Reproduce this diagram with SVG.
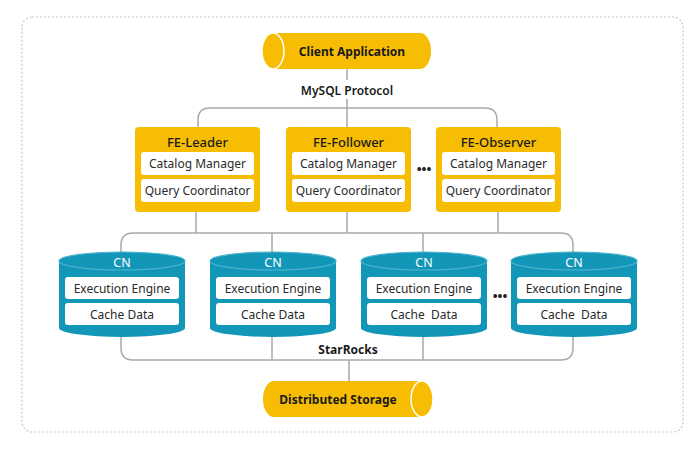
<svg xmlns="http://www.w3.org/2000/svg" width="690" height="452" viewBox="0 0 690 452">
<style>
.conn{fill:none;stroke:#a9a9a9;stroke-width:1.5}
.fe{fill:#f6bd02}
.inner{fill:#ffffff}
.cyl{fill:#1397b9}
.cyltop{fill:#1397b9;stroke:#4fb3cd;stroke-width:1.2}
.cap{fill:#f6bd02;stroke:#ffffff;stroke-width:1.5}
text{font-family:"Noto Sans","Liberation Sans",sans-serif;text-anchor:middle;dominant-baseline:central}
.t-in{font-size:12px;fill:#2a2a2a}
.t-fe{font-size:13px;font-weight:500;fill:#1a1a1a}
.t-cn{font-size:12.5px;fill:#ffffff}
.t-b{font-size:12px;font-weight:700;fill:#1a1a1a}
.dots{font-size:13px;font-weight:700;fill:#222}
</style>
<rect x="0" y="0" width="690" height="452" fill="#ffffff"/>
<rect x="22" y="17" width="661" height="415" rx="10" fill="none" stroke="#c4c4c4" stroke-width="1.2" stroke-dasharray="2 2"/>

<g id="connectors">
<path class="conn" d="M347 69 V80 M347 99 V127"/>
<path class="conn" d="M198 127 V120 Q198 108 210 108 H485 Q497 108 497 120 V127"/>
<path class="conn" d="M196 212 V233 M347 212 V233 M498 212 V233 M272 233 V252 M423 233 V252"/>
<path class="conn" d="M121 255 V245 Q121 233 133 233 H561 Q573 233 573 245 V255"/>
<path class="conn" d="M121 335 V348 Q121 360 133 360 H561 Q573 360 573 348 V335"/>
<path class="conn" d="M272 335 V360 M423 335 V360 M349 360 V381"/>
</g>

<g id="client-application">
<path class="fe" d="M273 33 H420 A11 18 0 0 1 420 69 H273 Z"/>
<ellipse class="cap" cx="273" cy="51" rx="11" ry="18"/>
<text class="t-b" x="352" y="51">Client Application</text>
</g>
<text id="mysql-protocol" class="t-b" x="347" y="90" style="font-weight:600">MySQL Protocol</text>

<g id="fe-leader">
<rect class="fe" x="135" y="127" width="125" height="85" rx="4"/>
<text class="t-fe" x="197.5" y="142">FE-Leader</text>
<rect class="inner" x="141" y="152" width="113" height="23" rx="3"/>
<text class="t-in" x="197.5" y="163.5">Catalog Manager</text>
<rect class="inner" x="141" y="179" width="113" height="23" rx="3"/>
<text class="t-in" x="197.5" y="190.5">Query Coordinator</text>
</g>
<g id="fe-follower">
<rect class="fe" x="286" y="127" width="125" height="85" rx="4"/>
<text class="t-fe" x="348.5" y="142">FE-Follower</text>
<rect class="inner" x="292" y="152" width="113" height="23" rx="3"/>
<text class="t-in" x="348.5" y="163.5">Catalog Manager</text>
<rect class="inner" x="292" y="179" width="113" height="23" rx="3"/>
<text class="t-in" x="348.5" y="190.5">Query Coordinator</text>
</g>
<text class="dots" x="424" y="169">•••</text>
<g id="fe-observer">
<rect class="fe" x="436" y="127" width="125" height="85" rx="4"/>
<text class="t-fe" x="498.5" y="142">FE-Observer</text>
<rect class="inner" x="442" y="152" width="113" height="23" rx="3"/>
<text class="t-in" x="498.5" y="163.5">Catalog Manager</text>
<rect class="inner" x="442" y="179" width="113" height="23" rx="3"/>
<text class="t-in" x="498.5" y="190.5">Query Coordinator</text>
</g>

<g id="cn-1">
<path class="cyl" d="M59 261 V328 A63 9 0 0 0 185 328 V261 Z"/>
<ellipse class="cyltop" cx="122" cy="261" rx="63" ry="9"/>
<text class="t-cn" x="122" y="262">CN</text>
<rect class="inner" x="65" y="277" width="114" height="22" rx="3"/>
<text class="t-in" x="122" y="288">Execution Engine</text>
<rect class="inner" x="65" y="303" width="114" height="22" rx="3"/>
<text class="t-in" x="122" y="314">Cache Data</text>
</g>
<g id="cn-2">
<path class="cyl" d="M210 261 V328 A63 9 0 0 0 336 328 V261 Z"/>
<ellipse class="cyltop" cx="273" cy="261" rx="63" ry="9"/>
<text class="t-cn" x="273" y="262">CN</text>
<rect class="inner" x="216" y="277" width="114" height="22" rx="3"/>
<text class="t-in" x="273" y="288">Execution Engine</text>
<rect class="inner" x="216" y="303" width="114" height="22" rx="3"/>
<text class="t-in" x="273" y="314">Cache Data</text>
</g>
<g id="cn-3">
<path class="cyl" d="M361 261 V328 A63 9 0 0 0 487 328 V261 Z"/>
<ellipse class="cyltop" cx="424" cy="261" rx="63" ry="9"/>
<text class="t-cn" x="424" y="262">CN</text>
<rect class="inner" x="367" y="277" width="114" height="22" rx="3"/>
<text class="t-in" x="424" y="288">Execution Engine</text>
<rect class="inner" x="367" y="303" width="114" height="22" rx="3"/>
<text class="t-in" x="424" y="314" xml:space="preserve">Cache  Data</text>
</g>
<text class="dots" x="500" y="296">•••</text>
<g id="cn-4">
<path class="cyl" d="M511 261 V328 A63 9 0 0 0 637 328 V261 Z"/>
<ellipse class="cyltop" cx="574" cy="261" rx="63" ry="9"/>
<text class="t-cn" x="574" y="262">CN</text>
<rect class="inner" x="517" y="277" width="114" height="22" rx="3"/>
<text class="t-in" x="574" y="288">Execution Engine</text>
<rect class="inner" x="517" y="303" width="114" height="22" rx="3"/>
<text class="t-in" x="574" y="314" xml:space="preserve">Cache  Data</text>
</g>

<text id="starrocks" class="t-b" x="348" y="349">StarRocks</text>

<g id="distributed-storage">
<path class="fe" d="M422 381 H274 A11 18 0 0 0 274 417 H422 Z"/>
<ellipse class="cap" cx="422" cy="399" rx="11" ry="18"/>
<text class="t-b" x="338" y="399">Distributed Storage</text>
</g>
</svg>
